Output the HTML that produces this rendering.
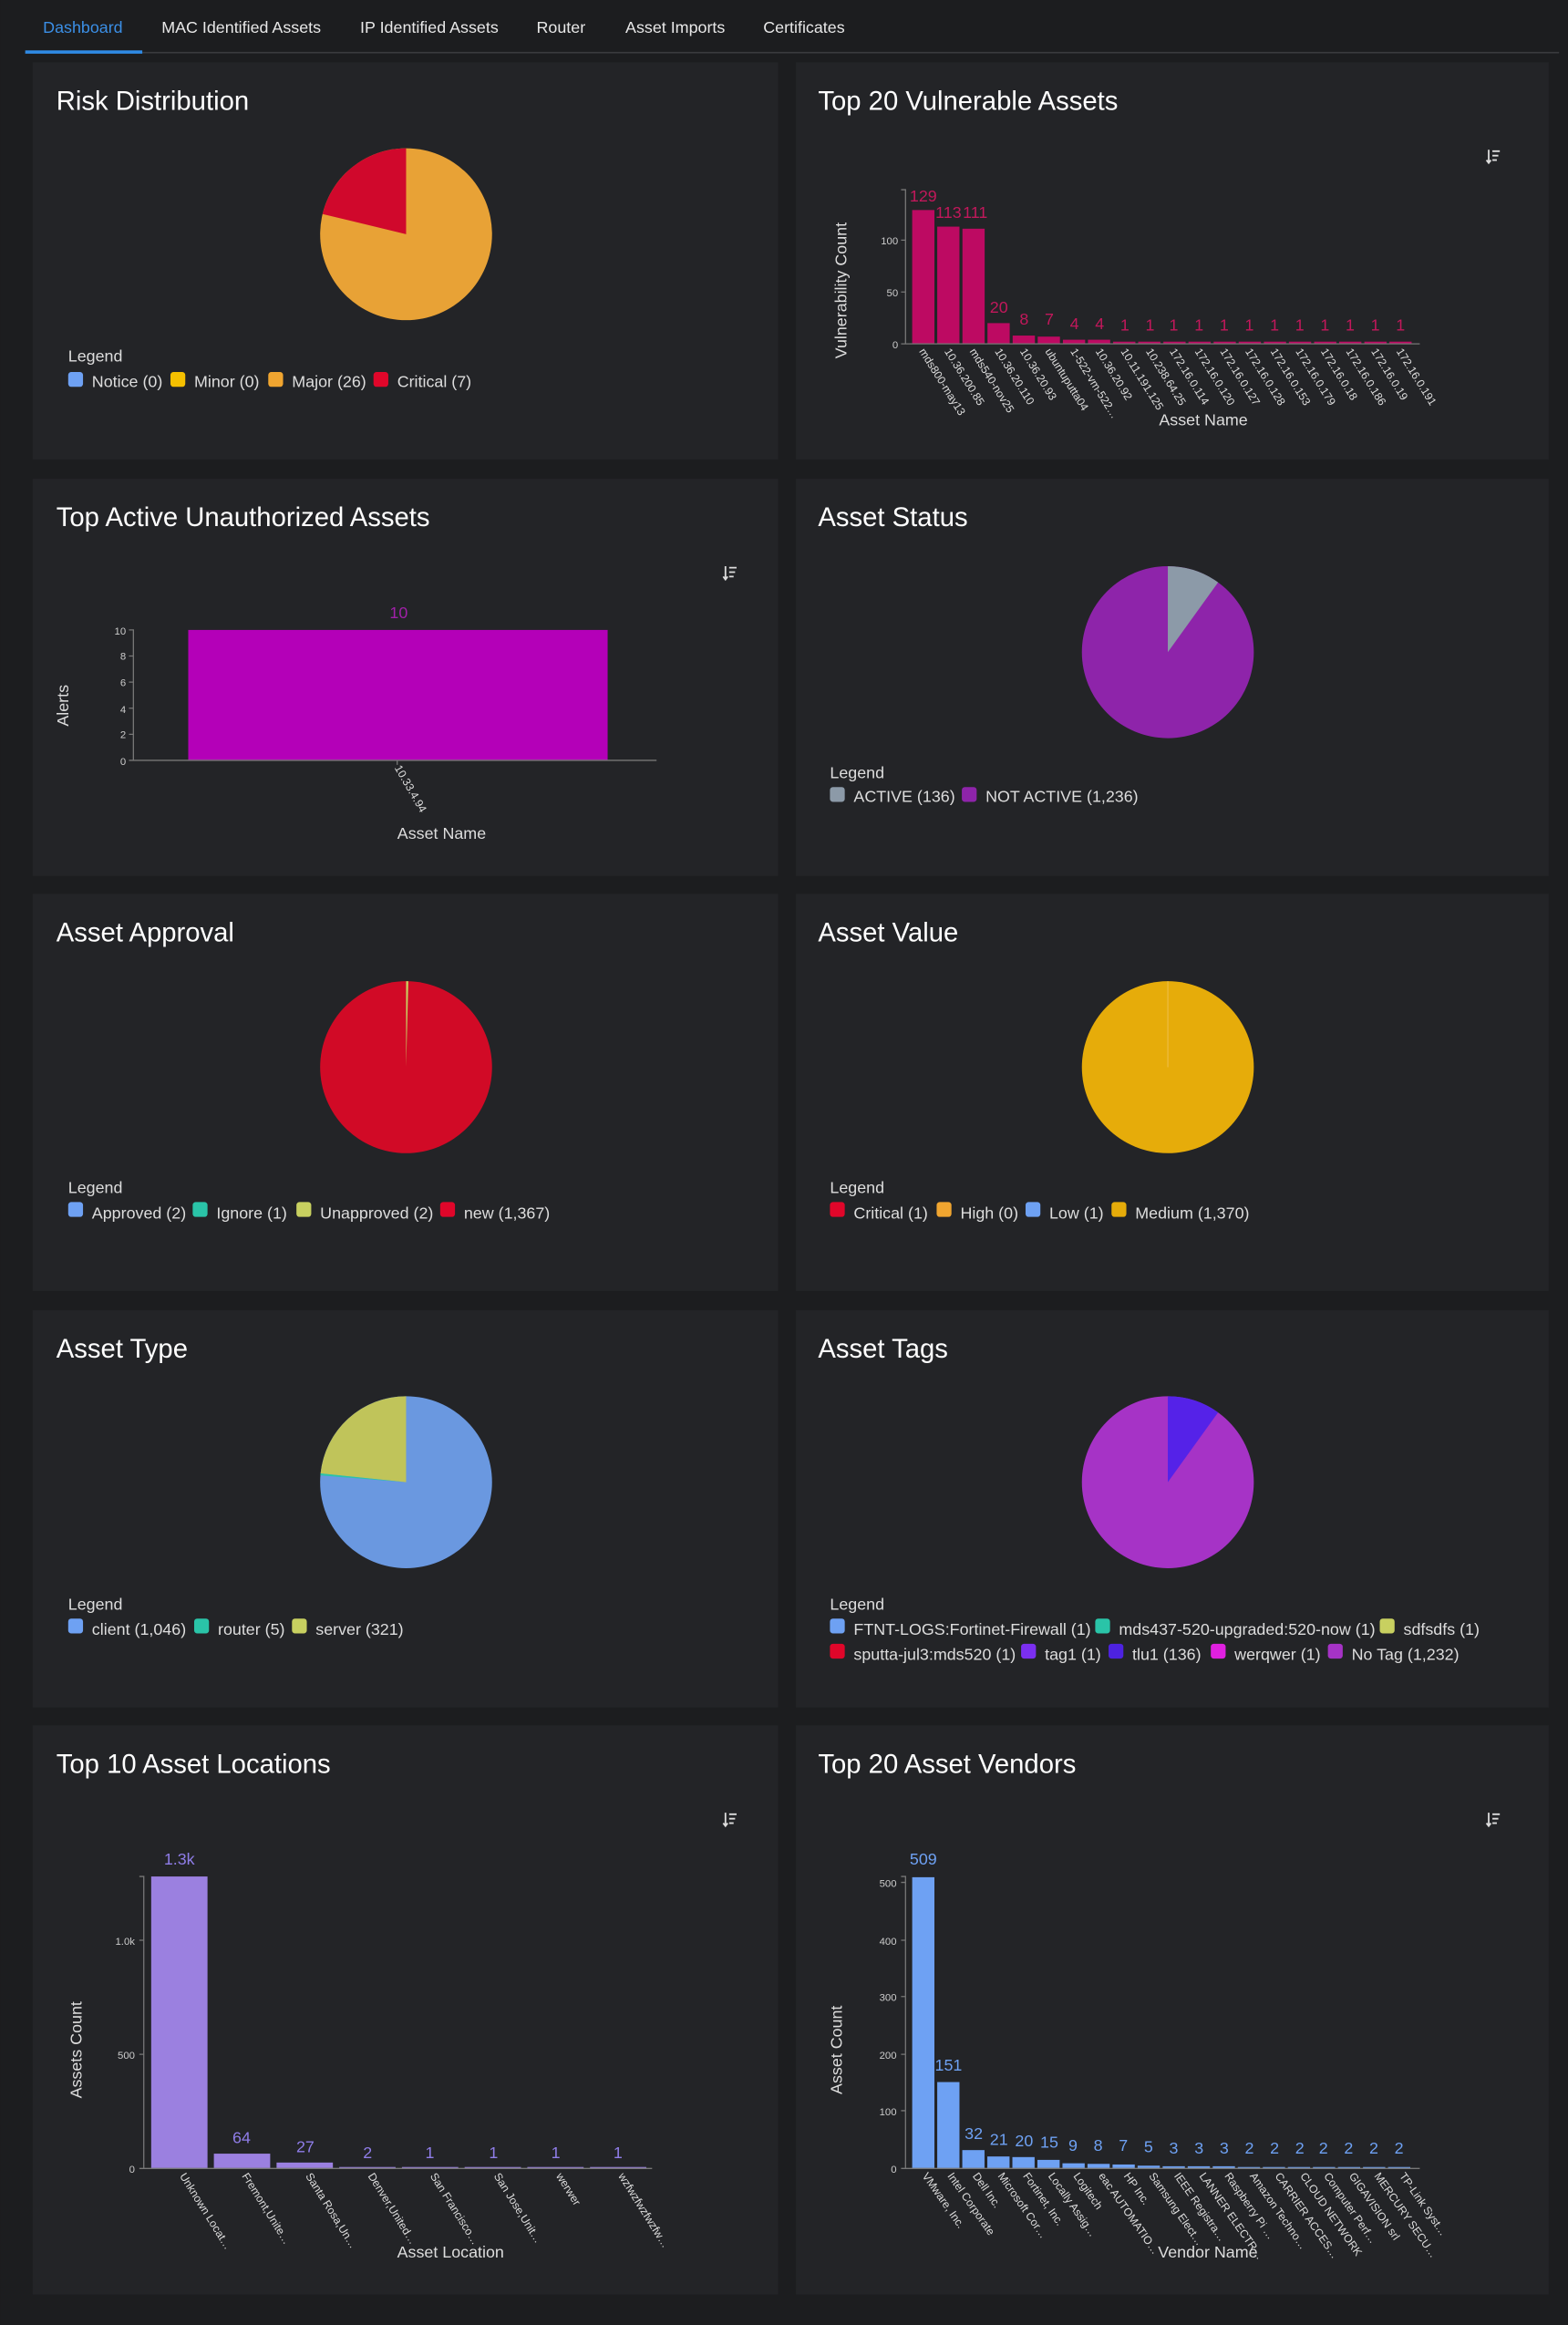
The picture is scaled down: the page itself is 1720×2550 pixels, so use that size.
<!DOCTYPE html>
<html><head><meta charset="utf-8"><style>
html,body{margin:0;padding:0;background:#1c1d1f;}
svg{display:block;font-family:"Liberation Sans",sans-serif;}
.t{fill:#fff;font-size:18px}
.lg{fill:#ddd;font-size:11px}
.tk{fill:#ccc;font-size:7px}
.ax{stroke:#777;stroke-width:.8;fill:none}
.xl{fill:#ddd;font-size:7.5px}
.al{fill:#ddd;font-size:11px}
</style></head><body>
<svg width="1720" height="2550" viewBox="0 0 1058 1568.6" xmlns="http://www.w3.org/2000/svg">
<rect width="1058" height="1568.6" fill="#1c1d1f"/>
<!-- tabs -->
<g font-size="11" fill="#e8e8e8">
<text x="29" y="22" fill="#3b8fe6">Dashboard</text>
<text x="109" y="22">MAC Identified Assets</text>
<text x="243" y="22">IP Identified Assets</text>
<text x="362" y="22">Router</text>
<text x="422" y="22">Asset Imports</text>
<text x="515" y="22">Certificates</text>
</g>
<rect x="17" y="35" width="1035" height="1" fill="#3a3b3e"/>
<rect x="17" y="34" width="79" height="2.2" fill="#2f8ae5"/>
<!-- panels -->
<g fill="#232427">
<rect x="22" y="42" width="503" height="268"/><rect x="537" y="42" width="508" height="268"/>
<rect x="22" y="323" width="503" height="268"/><rect x="537" y="323" width="508" height="268"/>
<rect x="22" y="603" width="503" height="268"/><rect x="537" y="603" width="508" height="268"/>
<rect x="22" y="884" width="503" height="268"/><rect x="537" y="884" width="508" height="268"/>
<rect x="22" y="1164" width="503" height="384"/><rect x="537" y="1164" width="508" height="384"/>
</g>
<g class="t">
<text x="38" y="74" class="t">Risk Distribution</text>
<text x="552" y="74" class="t">Top 20 Vulnerable Assets</text>
<text x="38" y="355" class="t">Top Active Unauthorized Assets</text>
<text x="552" y="355" class="t">Asset Status</text>
<text x="38" y="635" class="t">Asset Approval</text>
<text x="552" y="635" class="t">Asset Value</text>
<text x="38" y="916" class="t">Asset Type</text>
<text x="552" y="916" class="t">Asset Tags</text>
<text x="38" y="1196" class="t">Top 10 Asset Locations</text>
<text x="552" y="1196" class="t">Top 20 Asset Vendors</text>
</g>
<!-- sort icons -->
<g stroke="#ddd" stroke-width="1.1" fill="none">
<g transform="translate(1003,101)"><path d="M1.5 0V9M0 7l1.5 2 1.5-2M4 1h5M4 4h4M4 7h3"/></g>
<g transform="translate(488,382)"><path d="M1.5 0V9M0 7l1.5 2 1.5-2M4 1h5M4 4h4M4 7h3"/></g>
<g transform="translate(488,1223)"><path d="M1.5 0V9M0 7l1.5 2 1.5-2M4 1h5M4 4h4M4 7h3"/></g>
<g transform="translate(1003,1223)"><path d="M1.5 0V9M0 7l1.5 2 1.5-2M4 1h5M4 4h4M4 7h3"/></g>
</g>

<!-- Risk pie -->
<circle cx="274" cy="158" r="58" fill="#e8a236"/>
<path d="M274,158 L274,100 A58,58 0 0 0 217.6,144.4 Z" fill="#d0082c"/>
<text x="46" y="244" class="lg">Legend</text>
<g class="lg">
<rect x="46" y="251" width="10" height="10" rx="2" fill="#6ea1f3"/><text x="62" y="261">Notice (0)</text>
<rect x="115" y="251" width="10" height="10" rx="2" fill="#f5c000"/><text x="131" y="261">Minor (0)</text>
<rect x="181" y="251" width="10" height="10" rx="2" fill="#f0a530"/><text x="197" y="261">Major (26)</text>
<rect x="252" y="251" width="10" height="10" rx="2" fill="#e0062a"/><text x="268" y="261">Critical (7)</text>
</g>

<!-- Vulnerable bars -->
<g fill="#bd0a62">
<rect x="615.5" y="141.7" width="15" height="90.3"/>
<rect x="632.4" y="152.9" width="15" height="79.1"/>
<rect x="649.4" y="154.3" width="15" height="77.7"/>
<rect x="666.3" y="218" width="15" height="14"/>
<rect x="683.3" y="226.4" width="15" height="5.6"/>
<rect x="700.2" y="227.1" width="15" height="4.9"/>
<rect x="717.2" y="229.2" width="15" height="2.8"/>
<rect x="734.1" y="229.2" width="15" height="2.8"/>
<rect x="751.1" y="230.5" width="15" height="1.5"/><rect x="768" y="230.5" width="15" height="1.5"/>
<rect x="785" y="230.5" width="15" height="1.5"/><rect x="801.9" y="230.5" width="15" height="1.5"/>
<rect x="818.9" y="230.5" width="15" height="1.5"/><rect x="835.8" y="230.5" width="15" height="1.5"/>
<rect x="852.8" y="230.5" width="15" height="1.5"/><rect x="869.7" y="230.5" width="15" height="1.5"/>
<rect x="886.7" y="230.5" width="15" height="1.5"/><rect x="903.6" y="230.5" width="15" height="1.5"/>
<rect x="920.6" y="230.5" width="15" height="1.5"/><rect x="937.5" y="230.5" width="15" height="1.5"/>
</g>
<g fill="#c2185b" font-size="11" text-anchor="middle">
<text x="623" y="136">129</text><text x="640" y="147">113</text><text x="658" y="147">111</text>
<text x="674" y="211">20</text><text x="691" y="219">8</text><text x="708" y="219">7</text>
<text x="725" y="222">4</text><text x="742" y="222">4</text>
<text x="759" y="223">1</text><text x="776" y="223">1</text><text x="792" y="223">1</text><text x="809" y="223">1</text>
<text x="826" y="223">1</text><text x="843" y="223">1</text><text x="860" y="223">1</text><text x="877" y="223">1</text>
<text x="894" y="223">1</text><text x="911" y="223">1</text><text x="928" y="223">1</text><text x="945" y="223">1</text>
</g>
<path class="ax" d="M608,128H611V232H958M608,162H611M608,197H611M608,232H611"/>
<g class="tk" text-anchor="end"><text x="606" y="235">0</text><text x="606" y="200">50</text><text x="606" y="165">100</text></g>
<g class="xl">
<text transform="translate(620,237) rotate(58)">mds800-may13</text>
<text transform="translate(637,237) rotate(58)">10.36.200.85</text>
<text transform="translate(654,237) rotate(58)">mds540-nov25</text>
<text transform="translate(671,237) rotate(58)">10.36.20.110</text>
<text transform="translate(688,237) rotate(58)">10.36.20.93</text>
<text transform="translate(705,237) rotate(58)">ubuntuputta04</text>
<text transform="translate(722,237) rotate(58)">1-522-vm-522…</text>
<text transform="translate(739,237) rotate(58)">10.36.20.92</text>
<text transform="translate(756,237) rotate(58)">10.11.191.125</text>
<text transform="translate(773,237) rotate(58)">10.238.64.25</text>
<text transform="translate(789,237) rotate(58)">172.16.0.114</text>
<text transform="translate(806,237) rotate(58)">172.16.0.120</text>
<text transform="translate(823,237) rotate(58)">172.16.0.127</text>
<text transform="translate(840,237) rotate(58)">172.16.0.128</text>
<text transform="translate(857,237) rotate(58)">172.16.0.153</text>
<text transform="translate(874,237) rotate(58)">172.16.0.179</text>
<text transform="translate(891,237) rotate(58)">172.16.0.18</text>
<text transform="translate(908,237) rotate(58)">172.16.0.186</text>
<text transform="translate(925,237) rotate(58)">172.16.0.19</text>
<text transform="translate(942,237) rotate(58)">172.16.0.191</text>
</g>
<text x="812" y="287" class="al" text-anchor="middle">Asset Name</text>
<text transform="translate(571,196) rotate(-90)" class="al" text-anchor="middle">Vulnerability Count</text>

<!-- Unauthorized -->
<rect x="127" y="425" width="283" height="88" fill="#b400b8"/>
<text x="269" y="417" fill="#a020a8" font-size="11" text-anchor="middle">10</text>
<path class="ax" d="M87,425H90V513H443M87,442.6H90M87,460.2H90M87,477.8H90M87,495.4H90M87,513H90M268,513V516"/>
<g class="tk" text-anchor="end"><text x="85" y="516">0</text><text x="85" y="498">2</text><text x="85" y="481">4</text><text x="85" y="463">6</text><text x="85" y="445">8</text><text x="85" y="428">10</text></g>
<text transform="translate(266,518) rotate(60)" class="xl">10.33.4.94</text>
<text x="298" y="566" class="al" text-anchor="middle">Asset Name</text>
<text transform="translate(46,476) rotate(-90)" class="al" text-anchor="middle">Alerts</text>

<!-- Asset Status -->
<circle cx="788" cy="440" r="58" fill="#8e24aa"/>
<path d="M788,440 L788,382 A58,58 0 0 1 821.9,392.9 Z" fill="#8c9aa8"/>
<text x="560" y="525" class="lg">Legend</text>
<g class="lg">
<rect x="560" y="531" width="10" height="10" rx="2" fill="#8c9aa8"/><text x="576" y="541">ACTIVE (136)</text>
<rect x="649" y="531" width="10" height="10" rx="2" fill="#8e24aa"/><text x="665" y="541">NOT ACTIVE (1,236)</text>
</g>

<!-- Approval -->
<circle cx="274" cy="720" r="58" fill="#d10a26"/>
<path d="M274,720 L274,662 L275.5,662 Z" fill="#c8d060"/>
<text x="46" y="805" class="lg">Legend</text>
<g class="lg">
<rect x="46" y="811" width="10" height="10" rx="2" fill="#6ea1f3"/><text x="62" y="822">Approved (2)</text>
<rect x="130" y="811" width="10" height="10" rx="2" fill="#2ac4a8"/><text x="146" y="822">Ignore (1)</text>
<rect x="200" y="811" width="10" height="10" rx="2" fill="#c8d060"/><text x="216" y="822">Unapproved (2)</text>
<rect x="297" y="811" width="10" height="10" rx="2" fill="#e0062a"/><text x="313" y="822">new (1,367)</text>
</g>

<!-- Value -->
<circle cx="788" cy="720" r="58" fill="#e6ac0a"/>
<path d="M788,720 L788,662" stroke="#f0c050" stroke-width=".6"/>
<text x="560" y="805" class="lg">Legend</text>
<g class="lg">
<rect x="560" y="811" width="10" height="10" rx="2" fill="#e0062a"/><text x="576" y="822">Critical (1)</text>
<rect x="632" y="811" width="10" height="10" rx="2" fill="#f0a530"/><text x="648" y="822">High (0)</text>
<rect x="692" y="811" width="10" height="10" rx="2" fill="#6ea1f3"/><text x="708" y="822">Low (1)</text>
<rect x="750" y="811" width="10" height="10" rx="2" fill="#e6ac0a"/><text x="766" y="822">Medium (1,370)</text>
</g>

<!-- Type -->
<circle cx="274" cy="1000" r="58" fill="#6a98e0"/>
<path d="M274,1000 L274,942 A58,58 0 0 0 216.3,994.1 Z" fill="#c0c45a"/>
<path d="M274,1000 L216.3,994.1 L216.1,995.4 Z" fill="#2ac4a8"/>
<text x="46" y="1086" class="lg">Legend</text>
<g class="lg">
<rect x="46" y="1092" width="10" height="10" rx="2" fill="#6ea1f3"/><text x="62" y="1103">client (1,046)</text>
<rect x="131" y="1092" width="10" height="10" rx="2" fill="#2ac4a8"/><text x="147" y="1103">router (5)</text>
<rect x="197" y="1092" width="10" height="10" rx="2" fill="#c8d060"/><text x="213" y="1103">server (321)</text>
</g>

<!-- Tags -->
<circle cx="788" cy="1000" r="58" fill="#a633c6"/>
<path d="M788,1000 L788,942 A58,58 0 0 1 821.9,952.9 Z" fill="#5522e8"/>
<text x="560" y="1086" class="lg">Legend</text>
<g class="lg">
<rect x="560" y="1092" width="10" height="10" rx="2" fill="#6ea1f3"/><text x="576" y="1103">FTNT-LOGS:Fortinet-Firewall (1)</text>
<rect x="739" y="1092" width="10" height="10" rx="2" fill="#2ac4a8"/><text x="755" y="1103">mds437-520-upgraded:520-now (1)</text>
<rect x="931" y="1092" width="10" height="10" rx="2" fill="#c8d060"/><text x="947" y="1103">sdfsdfs (1)</text>
<rect x="560" y="1109" width="10" height="10" rx="2" fill="#e0062a"/><text x="576" y="1120">sputta-jul3:mds520 (1)</text>
<rect x="689" y="1109" width="10" height="10" rx="2" fill="#7b2ff0"/><text x="705" y="1120">tag1 (1)</text>
<rect x="748" y="1109" width="10" height="10" rx="2" fill="#4d22e0"/><text x="764" y="1120">tlu1 (136)</text>
<rect x="817" y="1109" width="10" height="10" rx="2" fill="#e020e0"/><text x="833" y="1120">werqwer (1)</text>
<rect x="896" y="1109" width="10" height="10" rx="2" fill="#a633c6"/><text x="912" y="1120">No Tag (1,232)</text>
</g>

<!-- Locations -->
<g fill="#9b80e0">
<rect x="102" y="1266" width="38" height="197"/>
<rect x="144.3" y="1453" width="38" height="10"/>
<rect x="186.6" y="1459" width="38" height="4"/>
<rect x="228.9" y="1462" width="38" height="1"/><rect x="271.2" y="1462" width="38" height="1"/>
<rect x="313.5" y="1462" width="38" height="1"/><rect x="355.8" y="1462" width="38" height="1"/>
<rect x="398.1" y="1462" width="38" height="1"/>
</g>
<g fill="#8f7de8" font-size="11" text-anchor="middle">
<text x="121" y="1258">1.3k</text><text x="163" y="1446">64</text><text x="206" y="1452">27</text>
<text x="248" y="1456">2</text><text x="290" y="1456">1</text><text x="333" y="1456">1</text><text x="375" y="1456">1</text><text x="417" y="1456">1</text>
</g>
<path class="ax" d="M94,1266H97V1463H440M94,1309H97M94,1386H97M94,1463H97"/>
<g class="tk" text-anchor="end"><text x="91" y="1466">0</text><text x="91" y="1389">500</text><text x="91" y="1312">1.0k</text></g>
<g class="xl">
<text transform="translate(121,1468) rotate(58)">Unknown Locat…</text>
<text transform="translate(163,1468) rotate(58)">Fremont,Unite…</text>
<text transform="translate(206,1468) rotate(58)">Santa Rosa,Un…</text>
<text transform="translate(248,1468) rotate(58)">Denver,United…</text>
<text transform="translate(290,1468) rotate(58)">San Francisco…</text>
<text transform="translate(333,1468) rotate(58)">San Jose,Unit…</text>
<text transform="translate(375,1468) rotate(58)">werwer</text>
<text transform="translate(417,1468) rotate(58)">wzfwzfwzfwzfw…</text>
</g>
<text x="304" y="1523" class="al" text-anchor="middle">Asset Location</text>
<text transform="translate(55,1383) rotate(-90)" class="al" text-anchor="middle">Assets Count</text>

<!-- Vendors -->
<g fill="#6ea1f3">
<rect x="615.5" y="1266.5" width="15" height="196.5"/>
<rect x="632.4" y="1404.7" width="15" height="58.3"/>
<rect x="649.3" y="1450.6" width="15" height="12.4"/>
<rect x="666.2" y="1454.9" width="15" height="8.1"/>
<rect x="683.1" y="1455.3" width="15" height="7.7"/>
<rect x="700" y="1457.2" width="15" height="5.8"/>
<rect x="716.9" y="1459.5" width="15" height="3.5"/>
<rect x="733.8" y="1459.9" width="15" height="3.1"/>
<rect x="750.7" y="1460.3" width="15" height="2.7"/>
<rect x="767.6" y="1461.1" width="15" height="1.9"/>
<rect x="784.5" y="1461.5" width="15" height="1.5"/><rect x="801.4" y="1461.5" width="15" height="1.5"/>
<rect x="818.3" y="1461.5" width="15" height="1.5"/><rect x="835.2" y="1462" width="15" height="1"/>
<rect x="852.1" y="1462" width="15" height="1"/><rect x="869" y="1462" width="15" height="1"/>
<rect x="885.9" y="1462" width="15" height="1"/><rect x="902.8" y="1462" width="15" height="1"/>
<rect x="919.7" y="1462" width="15" height="1"/><rect x="936.6" y="1462" width="15" height="1"/>
</g>
<g fill="#6ea1f3" font-size="11" text-anchor="middle">
<text x="623" y="1258">509</text><text x="640" y="1397">151</text><text x="657" y="1443">32</text><text x="674" y="1447">21</text>
<text x="691" y="1448">20</text><text x="708" y="1449">15</text><text x="724" y="1451">9</text><text x="741" y="1451">8</text>
<text x="758" y="1451">7</text><text x="775" y="1452">5</text><text x="792" y="1453">3</text><text x="809" y="1453">3</text>
<text x="826" y="1453">3</text><text x="843" y="1453">2</text><text x="860" y="1453">2</text><text x="877" y="1453">2</text>
<text x="893" y="1453">2</text><text x="910" y="1453">2</text><text x="927" y="1453">2</text><text x="944" y="1453">2</text>
</g>
<path class="ax" d="M608,1266H611V1463H958M608,1270H611M608,1309H611M608,1347H611M608,1386H611M608,1424H611M608,1463H611"/>
<g class="tk" text-anchor="end"><text x="605" y="1466">0</text><text x="605" y="1427">100</text><text x="605" y="1389">200</text><text x="605" y="1350">300</text><text x="605" y="1312">400</text><text x="605" y="1273">500</text></g>
<g class="xl">
<text transform="translate(622,1468) rotate(55)">VMware, Inc.</text>
<text transform="translate(639,1468) rotate(55)">Intel Corporate</text>
<text transform="translate(656,1468) rotate(55)">Dell Inc.</text>
<text transform="translate(673,1468) rotate(55)">Microsoft Cor…</text>
<text transform="translate(690,1468) rotate(55)">Fortinet, Inc.</text>
<text transform="translate(707,1468) rotate(55)">Locally Assig…</text>
<text transform="translate(724,1468) rotate(55)">Logitech</text>
<text transform="translate(741,1468) rotate(55)">eac AUTOMATIO…</text>
<text transform="translate(758,1468) rotate(55)">HP Inc.</text>
<text transform="translate(775,1468) rotate(55)">Samsung Elect…</text>
<text transform="translate(792,1468) rotate(55)">IEEE Registra…</text>
<text transform="translate(809,1468) rotate(55)">LANNER ELECTR…</text>
<text transform="translate(826,1468) rotate(55)">Raspberry Pi …</text>
<text transform="translate(843,1468) rotate(55)">Amazon Techno…</text>
<text transform="translate(860,1468) rotate(55)">CARRIER ACCES…</text>
<text transform="translate(877,1468) rotate(55)">CLOUD NETWORK</text>
<text transform="translate(893,1468) rotate(55)">Computer Perf…</text>
<text transform="translate(910,1468) rotate(55)">GIGAVISION srl</text>
<text transform="translate(927,1468) rotate(55)">MERCURY SECU…</text>
<text transform="translate(944,1468) rotate(55)">TP-Link Syst…</text>
</g>
<text x="815" y="1523" class="al" text-anchor="middle">Vendor Name</text>
<text transform="translate(568,1383) rotate(-90)" class="al" text-anchor="middle">Asset Count</text>
</svg>
</body></html>
